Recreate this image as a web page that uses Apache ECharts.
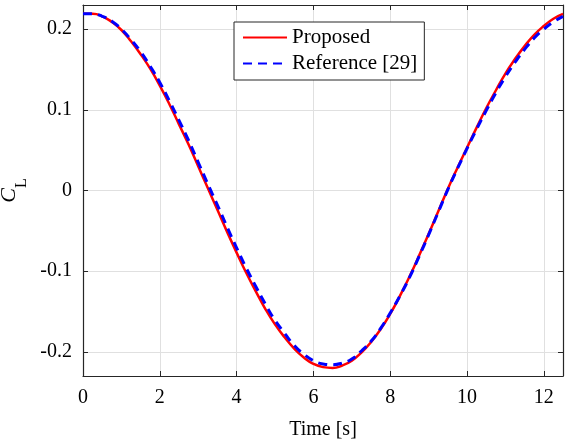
<!DOCTYPE html>
<html>
<head>
<meta charset="utf-8">
<script src="https://cdn.jsdelivr.net/npm/echarts@6/dist/echarts.min.js"></script>
<style>
html, body { margin: 0; padding: 0; background: #fff; }
#con { width: 570px; height: 443px; }
</style>
</head>
<body>
<div id="con"></div>
<script>
// time samples [s]
var times = [0, 0.25, 0.5, 0.75, 1, 1.25, 1.5, 1.75, 2, 2.25, 2.5, 2.75, 3, 3.25, 3.5, 3.75,
             4, 4.25, 4.5, 4.75, 5, 5.25, 5.5, 5.75, 6, 6.25, 6.5, 6.75, 7, 7.25, 7.5, 7.75,
             8, 8.25, 8.5, 8.75, 9, 9.25, 9.5, 9.75, 10, 10.25, 10.5, 10.75, 11, 11.25, 11.5,
             11.75, 12, 12.25, 12.5];
// lift coefficient, proposed method
var proposed = [0.219, 0.219, 0.216, 0.209, 0.199, 0.185, 0.169, 0.151, 0.130, 0.107, 0.082, 0.057,
                0.030, 0.003, -0.024, -0.051, -0.077, -0.102, -0.125, -0.147, -0.166, -0.182,
                -0.196, -0.207, -0.215, -0.219, -0.220, -0.217, -0.211, -0.201, -0.188, -0.172,
                -0.153, -0.131, -0.107, -0.081, -0.054, -0.026, 0.002, 0.028, 0.053, 0.078,
                0.102, 0.124, 0.145, 0.163, 0.179, 0.193, 0.204, 0.213, 0.219];
// reference [29]
var reference = [0.219, 0.219, 0.216, 0.210, 0.200, 0.187, 0.172, 0.154, 0.134, 0.111, 0.087, 0.062,
                 0.035, 0.008, -0.018, -0.045, -0.071, -0.096, -0.119, -0.141, -0.161, -0.177,
                 -0.192, -0.203, -0.211, -0.215, -0.216, -0.214, -0.209, -0.199, -0.187, -0.171,
                 -0.152, -0.131, -0.108, -0.082, -0.055, -0.027, 0.001, 0.027, 0.052, 0.076,
                 0.099, 0.121, 0.141, 0.159, 0.175, 0.189, 0.200, 0.209, 0.216];
var xTicks = { min: 0, max: 12.5, step: 2 };
var yRange = { min: -0.23, max: 0.23 };

function pairs(vals) {
	var out = [];
	for (var i = 0; i < times.length; i++) {
		out.push([times[i], vals[i]]);
	}
	return out;
}

var myChart = echarts.init(document.getElementById('con'));
var font = 'Liberation Serif';
var axisColor = '#262626';

option = {
	animation: false,
	backgroundColor: '#fff',
	grid: { left: 83, right: 7, top: 5, bottom: 67, outerBoundsMode: 'none', containLabel: false },
	legend: {
		orient: 'vertical',
		left: 234,
		top: 22,
		padding: [5, 7, 6, 8],
		itemWidth: 44,
		itemHeight: 14,
		itemGap: 5,
		itemStyle: { opacity: 0 },
		backgroundColor: '#fff',
		borderColor: axisColor,
		borderWidth: 1,
		textStyle: { fontFamily: font, fontSize: 21, color: '#000', lineHeight: 20 },
		data: ['Proposed', 'Reference [29]']
	},
	xAxis: [{
		type: 'value',
		min: xTicks.min,
		max: xTicks.max,
		interval: xTicks.step,
		name: 'Time [s]',
		nameLocation: 'middle',
		nameGap: 44,
		nameTextStyle: { fontFamily: font, fontSize: 20, color: '#000' },
		axisLine: { onZero: false, lineStyle: { color: axisColor, width: 1.2 } },
		axisTick: { inside: true, length: 5, lineStyle: { color: axisColor } },
		axisLabel: { fontFamily: font, fontSize: 20, color: '#000', margin: 12, showMaxLabel: false },
		splitLine: { show: true, lineStyle: { color: '#e0e0e0', width: 1 } }
	}, {
		type: 'value',
		position: 'top',
		min: xTicks.min,
		max: xTicks.max,
		interval: xTicks.step,
		axisLine: { onZero: false, lineStyle: { color: axisColor, width: 1.2 } },
		axisTick: { inside: true, length: 5, lineStyle: { color: axisColor } },
		axisLabel: { show: false },
		splitLine: { show: false }
	}],
	yAxis: [{
		type: 'value',
		min: yRange.min,
		max: yRange.max,
		splitNumber: 5,
		name: '{c|C}{s|L}',
		nameLocation: 'middle',
		nameRotate: 90,
		nameGap: 56,
		nameTextStyle: {
			rich: {
				c: { fontFamily: font, fontSize: 22, fontStyle: 'italic', color: '#000', lineHeight: 22, verticalAlign: 'top' },
				s: { fontFamily: font, fontSize: 16, color: '#000', lineHeight: 16, padding: [15, 0, 0, 0], verticalAlign: 'top' }
			}
		},
		axisLine: { show: true, onZero: false, lineStyle: { color: axisColor, width: 1.2 } },
		axisTick: { show: true, inside: true, length: 5, lineStyle: { color: axisColor } },
		axisLabel: { fontFamily: font, fontSize: 20, color: '#000', margin: 11, showMinLabel: false, showMaxLabel: false },
		splitLine: { show: true, lineStyle: { color: '#e0e0e0', width: 1 } }
	}, {
		type: 'value',
		position: 'right',
		min: yRange.min,
		max: yRange.max,
		splitNumber: 5,
		axisLine: { show: true, onZero: false, lineStyle: { color: axisColor, width: 1.2 } },
		axisTick: { show: true, inside: true, length: 5, lineStyle: { color: axisColor } },
		axisLabel: { show: false },
		splitLine: { show: false }
	}],
	series: [{
		name: 'Proposed',
		type: 'line',
		data: pairs(proposed),
		smooth: true,
		symbol: 'none',
		lineStyle: { color: '#ff0000', width: 2.5 },
		itemStyle: { color: '#ff0000' }
	}, {
		name: 'Reference [29]',
		type: 'line',
		data: pairs(reference),
		smooth: true,
		symbol: 'none',
		lineStyle: { color: '#0000ff', width: 3, type: [9, 6] },
		itemStyle: { color: '#0000ff' }
	}]
};

myChart.setOption(option);
</script>
</body>
</html>
